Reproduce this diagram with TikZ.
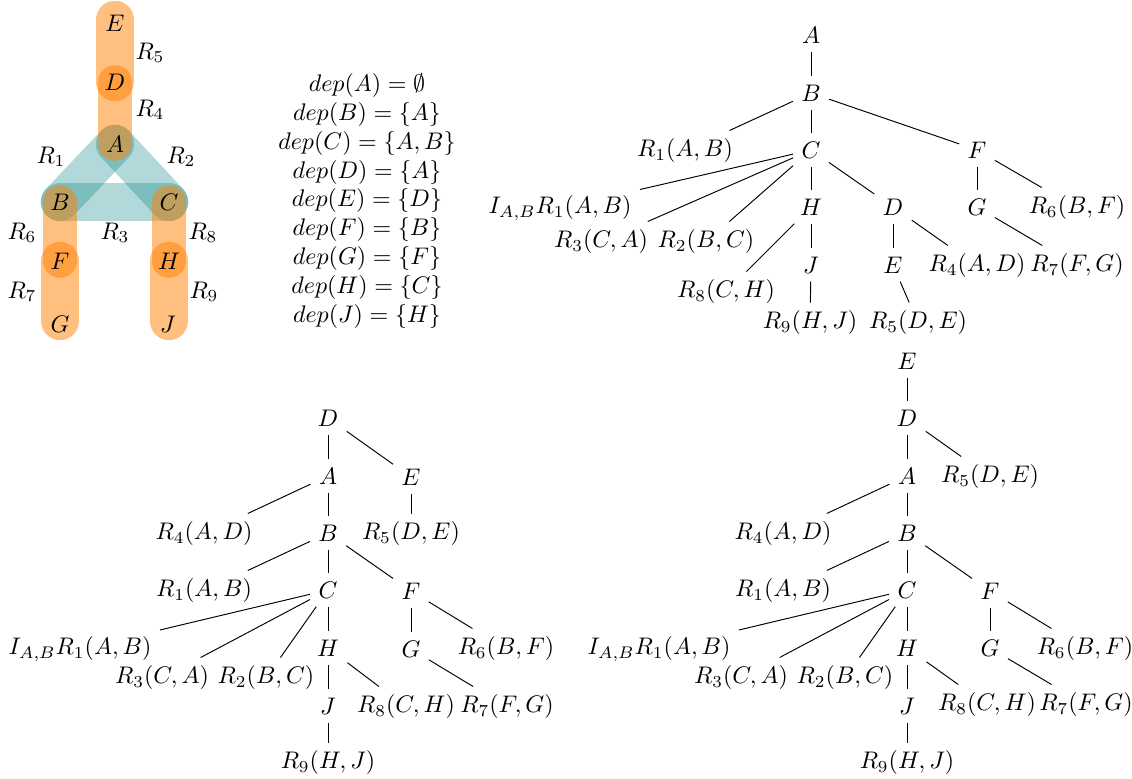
\documentclass[tikz,border=0pt]{standalone}
\begin{document}
\begin{tikzpicture}[x=0.41667pt,y=-0.41667pt,
  tedge/.style={teal,opacity=0.3,line width=16pt,line cap=round},
  oedge/.style={orange,opacity=0.5,line width=14pt,line cap=round},
  oouter/.style={orange,opacity=0.5,line width=16pt,line cap=round},
  tn/.style={inner sep=0.3333em},
  lk/.style={line width=0.4pt}]
\useasboundingbox (0,0) rectangle (1132,779);
% ---------- hypergraph ----------
\coordinate (pE) at (115,20);
\coordinate (pD) at (115,82);
\coordinate (pA) at (115,144);
\coordinate (pB) at (60,202);
\coordinate (pC) at (169,202);
\coordinate (pF) at (60,261);
\coordinate (pH) at (169,261);
\coordinate (pG) at (60,321);
\coordinate (pJ) at (169,321);
\draw[tedge] (pA) -- (pB);
\draw[tedge] (pA) -- (pC);
\draw[tedge] (pB) -- (pC);
\draw[oouter] (pE) -- (pD);
\draw[oedge] (pD) -- (pA);
\draw[oedge] (pB) -- (pF);
\draw[oouter] (pF) -- (pG);
\draw[oedge] (pC) -- (pH);
\draw[oouter] (pH) -- (pJ);
\node[tn] (hE) at (115,23) {$E$};
\node[tn] (hD) at (115,82) {$D$};
\node[tn] (hA) at (115,144) {$A$};
\node[tn] (hB) at (60,202) {$B$};
\node[tn] (hC) at (169,202) {$C$};
\node[tn] (hF) at (60,261) {$F$};
\node[tn] (hH) at (169,261) {$H$};
\node[tn] (hG) at (60,324) {$G$};
\node[tn] (hJ) at (168,324) {$J$};
\node (r5) at (150,53) {$R_5$};
\node (r4) at (150,110) {$R_4$};
\node (r1) at (51,157) {$R_1$};
\node (r2) at (181,157) {$R_2$};
\node (r6) at (22,233) {$R_6$};
\node (r3) at (115,233) {$R_3$};
\node (r8) at (203,233) {$R_8$};
\node (r7) at (22,292) {$R_7$};
\node (r9) at (204,292) {$R_9$};
% ---------- dep list ----------
\node[align=center] (dep) at (367,201) {$dep(A) = \emptyset$\\ $dep(B) = \{A\}$\\ $dep(C) = \{A, B\}$\\ $dep(D) = \{A\}$\\ $dep(E) = \{D\}$\\ $dep(F) = \{B\}$\\ $dep(G) = \{F\}$\\ $dep(H) = \{C\}$\\ $dep(J) = \{H\}$};
% ---------- tree 1 ----------
\node[tn] (aA) at (811,35) {$A$};
\node[tn] (aB) at (811,93) {$B$};
\node[tn] (aR1) at (685,151) {$R_1(A,B)$};
\node[tn] (aC) at (811,150) {$C$};
\node[tn] (aF) at (977,150) {$F$};
\node[tn] (aI) at (560,208) {$I_{A,B}R_1(A,B)$};
\node[tn] (aH) at (811,207) {$H$};
\node[tn] (aD) at (893,207) {$D$};
\node[tn] (aG) at (977,207) {$G$};
\node[tn] (aR6) at (1077,208) {$R_6(B,F)$};
\node[tn] (aR3) at (601,242) {$R_3(C,A)$};
\node[tn] (aR2) at (706,242) {$R_2(B,C)$};
\node[tn] (aJ) at (811,265) {$J$};
\node[tn] (aE) at (893,265) {$E$};
\node[tn] (aR4) at (977,266) {$R_4(A,D)$};
\node[tn] (aR7) at (1077,266) {$R_7(F,G)$};
\node[tn] (aR8) at (726,292) {$R_8(C,H)$};
\node[tn] (aR9) at (810,323) {$R_9(H,J)$};
\node[tn] (aR5) at (918,323) {$R_5(D,E)$};
\draw[lk] (aA) -- (aB);
\draw[lk] (aB) -- (aR1);
\draw[lk] (aB) -- (aC);
\draw[lk] (aB) -- (aF);
\draw[lk] (aC) -- (aI);
\draw[lk] (aC) -- (aR3);
\draw[lk] (aC) -- (aR2);
\draw[lk] (aC) -- (aH);
\draw[lk] (aC) -- (aD);
\draw[lk] (aF) -- (aG);
\draw[lk] (aF) -- (aR6);
\draw[lk] (aH) -- (aR8);
\draw[lk] (aH) -- (aJ);
\draw[lk] (aD) -- (aE);
\draw[lk] (aD) -- (aR4);
\draw[lk] (aG) -- (aR7);
\draw[lk] (aJ) -- (aR9);
\draw[lk] (aE) -- (aR5);
% ---------- tree 2 ----------
\node[tn] (bD) at (328,418) {$D$};
\node[tn] (bA) at (328,476) {$A$};
\node[tn] (bE) at (411,477) {$E$};
\node[tn] (bR4) at (204,534) {$R_4(A,D)$};
\node[tn] (bB) at (328,533) {$B$};
\node[tn] (bR5) at (411,534) {$R_5(D,E)$};
\node[tn] (bR1) at (204,591) {$R_1(A,B)$};
\node[tn] (bC) at (328,590) {$C$};
\node[tn] (bF) at (411,591) {$F$};
\node[tn] (bI) at (80,649) {$I_{A,B}R_1(A,B)$};
\node[tn] (bH) at (328,648) {$H$};
\node[tn] (bG) at (411,649) {$G$};
\node[tn] (bR6) at (506,649) {$R_6(B,F)$};
\node[tn] (bR3) at (162,678) {$R_3(C,A)$};
\node[tn] (bR2) at (266,678) {$R_2(B,C)$};
\node[tn] (bJ) at (328,706) {$J$};
\node[tn] (bR8) at (406,707) {$R_8(C,H)$};
\node[tn] (bR7) at (507,707) {$R_7(F,G)$};
\node[tn] (bR9) at (328,763) {$R_9(H,J)$};
\draw[lk] (bD) -- (bA);
\draw[lk] (bD) -- (bE);
\draw[lk] (bA) -- (bR4);
\draw[lk] (bA) -- (bB);
\draw[lk] (bE) -- (bR5);
\draw[lk] (bB) -- (bR1);
\draw[lk] (bB) -- (bC);
\draw[lk] (bB) -- (bF);
\draw[lk] (bC) -- (bI);
\draw[lk] (bC) -- (bR3);
\draw[lk] (bC) -- (bR2);
\draw[lk] (bC) -- (bH);
\draw[lk] (bF) -- (bG);
\draw[lk] (bF) -- (bR6);
\draw[lk] (bH) -- (bJ);
\draw[lk] (bH) -- (bR8);
\draw[lk] (bG) -- (bR7);
\draw[lk] (bJ) -- (bR9);
% ---------- tree 3 ----------
\node[tn] (cE) at (907,361) {$E$};
\node[tn] (cD) at (907,418) {$D$};
\node[tn] (cA) at (907,476) {$A$};
\node[tn] (cR5) at (990,477) {$R_5(D,E)$};
\node[tn] (cR4) at (783,534) {$R_4(A,D)$};
\node[tn] (cB) at (907,533) {$B$};
\node[tn] (cR1) at (783,591) {$R_1(A,B)$};
\node[tn] (cC) at (907,590) {$C$};
\node[tn] (cF) at (990,591) {$F$};
\node[tn] (cI) at (659,649) {$I_{A,B}R_1(A,B)$};
\node[tn] (cH) at (907,648) {$H$};
\node[tn] (cG) at (990,648) {$G$};
\node[tn] (cR6) at (1085,649) {$R_6(B,F)$};
\node[tn] (cR3) at (741,678) {$R_3(C,A)$};
\node[tn] (cR2) at (845,678) {$R_2(B,C)$};
\node[tn] (cJ) at (907,706) {$J$};
\node[tn] (cR8) at (987,705) {$R_8(C,H)$};
\node[tn] (cR7) at (1086,705) {$R_7(F,G)$};
\node[tn] (cR9) at (907,763) {$R_9(H,J)$};
\draw[lk] (cE) -- (cD);
\draw[lk] (cD) -- (cA);
\draw[lk] (cD) -- (cR5);
\draw[lk] (cA) -- (cR4);
\draw[lk] (cA) -- (cB);
\draw[lk] (cB) -- (cR1);
\draw[lk] (cB) -- (cC);
\draw[lk] (cB) -- (cF);
\draw[lk] (cC) -- (cI);
\draw[lk] (cC) -- (cR3);
\draw[lk] (cC) -- (cR2);
\draw[lk] (cC) -- (cH);
\draw[lk] (cF) -- (cG);
\draw[lk] (cF) -- (cR6);
\draw[lk] (cH) -- (cJ);
\draw[lk] (cH) -- (cR8);
\draw[lk] (cG) -- (cR7);
\draw[lk] (cJ) -- (cR9);
\end{tikzpicture}
\end{document}
